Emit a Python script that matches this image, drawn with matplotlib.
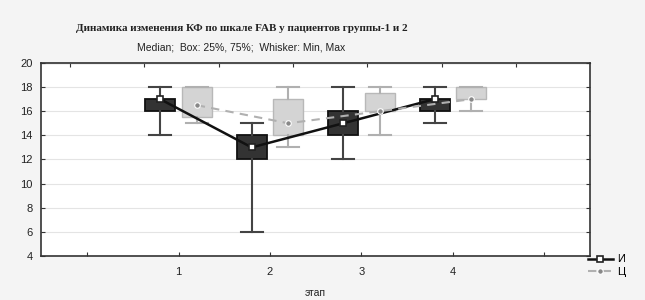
import matplotlib.pyplot as plt

# --------------------------------------------------------------------------- #
# Data                                              #
# --------------------------------------------------------------------------- #

stages = [1, 2, 3, 4]

# group "И"
i_min = [14, 6, 12, 15]
i_q1 = [16, 12, 14, 16]
i_med = [17, 13, 15, 17]
i_q3 = [17, 14, 16, 17]
i_max = [18, 15, 18, 18]

# group "Ц"
c_min = [15, 13, 14, 16]
c_q1 = [15.5, 14, 16, 17]
c_med = [16.5, 15, 16, 17]
c_q3 = [18, 17, 17.5, 18]
c_max = [18, 18, 18, 18]

x_ticks = [0, 1, 2, 3, 4, 5]
x_labels = ["", "1", "2", "3", "4", ""]
y_ticks = [4, 6, 8, 10, 12, 14, 16, 18, 20]

title = "Динамика изменения КФ по шкале FAB у пациентов группы-1 и 2"
subtitle = "Median;  Box: 25%, 75%;  Whisker: Min, Max"


def _stats(lo, q1, med, q3, hi):
    return [dict(whislo=a, q1=b, med=c, q3=d, whishi=e)
            for a, b, c, d, e in zip(lo, q1, med, q3, hi)]


plt.rcParams.update({
    "font.family": ["Liberation Sans", "DejaVu Sans"],
    "font.size": 8,
})

fig = plt.figure(figsize=(6.45, 3.0), dpi=100, facecolor="#f4f4f4")
ax = fig.add_axes([0.064, 0.147, 0.851, 0.643])
ax.set_facecolor("white")

off = 0.2
pos_i = [s - off for s in stages]
pos_c = [s + off for s in stages]

ax.bxp(_stats(i_min, i_q1, i_med, i_q3, i_max), positions=pos_i,
       widths=0.33, capwidths=0.24, patch_artist=True, showfliers=False,
       manage_ticks=False,
       boxprops=dict(facecolor="#333333", edgecolor="#111111", linewidth=1.3),
       whiskerprops=dict(color="#444444", linewidth=1.5),
       capprops=dict(color="#444444", linewidth=1.5),
       medianprops=dict(visible=False), zorder=2)

ax.bxp(_stats(c_min, c_q1, c_med, c_q3, c_max), positions=pos_c,
       widths=0.33, capwidths=0.24, patch_artist=True, showfliers=False,
       manage_ticks=False,
       boxprops=dict(facecolor="#d4d4d4", edgecolor="#b8b8b8", linewidth=1.0),
       whiskerprops=dict(color="#b0b0b0", linewidth=1.5),
       capprops=dict(color="#b0b0b0", linewidth=1.5),
       medianprops=dict(visible=False), zorder=2)

ax.plot(pos_i, i_med, color="#111111", linewidth=1.8, marker="s",
        markersize=5, markerfacecolor="white", markeredgecolor="#222222",
        markeredgewidth=1.2, label="И", zorder=3)
ax.plot(pos_c, c_med, color="#b0b0b0", linewidth=1.5, linestyle="--",
        dashes=(4, 3), marker="o", markersize=4, markerfacecolor="#888888",
        markeredgecolor="white", markeredgewidth=0.8, label="Ц", zorder=4)

ax.set_xlim(-0.5, 5.5)
ax.set_ylim(4, 20)
ax.set_xticks(x_ticks)
ax.set_xticklabels(x_labels)
ax.set_yticks(y_ticks)
ax.yaxis.grid(True, color="#e4e4e4", linewidth=0.8)
ax.set_axisbelow(True)
ax.tick_params(direction="in", length=3, width=0.8, colors="#333333",
               labelcolor="#222222", labelsize=8, right=True)
ax.tick_params(axis="x", pad=8)
ax.tick_params(axis="y", pad=6)
for sp in ax.spines.values():
    sp.set_color("#333333")
    sp.set_linewidth(1.2)

top = ax.secondary_xaxis("top")
top.set_xticks([-0.19, 0.62, 1.44, 2.25, 3.06, 3.88, 4.69])
top.set_xticklabels([])
top.tick_params(direction="in", length=3, width=0.8, colors="#333333")

fig.text(0.375, 0.905, title, ha="center", va="center", fontsize=8,
         fontweight="bold", family=["Liberation Serif", "DejaVu Serif"],
         color="#222222")
fig.text(0.374, 0.843, subtitle, ha="center", va="center", fontsize=7.5,
         color="#222222")
fig.text(0.488, 0.025, "этап", ha="center", va="center", fontsize=7.5,
         color="#222222")

fig.legend(loc="center left", bbox_to_anchor=(0.912, 0.115), frameon=False,
           fontsize=8, handlelength=2.2, handletextpad=0.4, labelspacing=0.2,
           borderaxespad=0, borderpad=0)

fig.savefig("out.png", dpi=100, facecolor=fig.get_facecolor())
